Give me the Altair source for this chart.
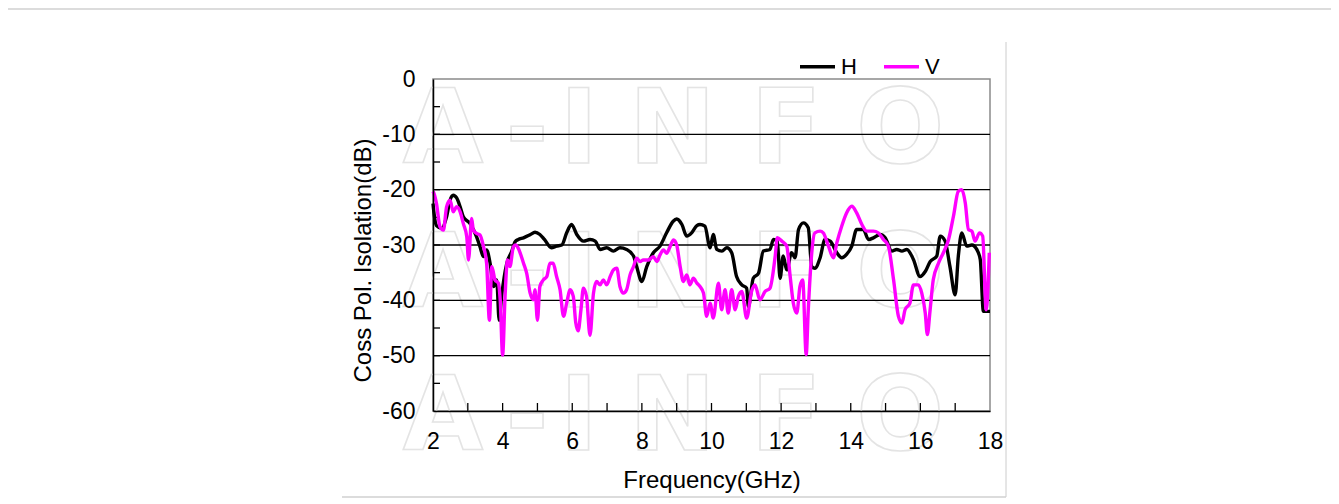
import altair as alt
import pandas as pd

# ---- data ----
H_points = [
    (2.0, -22.5), (2.03, -24.3), (2.1, -26.5), (2.25, -27.0), (2.39, -24.9), (2.49, -21.9),
    (2.58, -21.0), (2.68, -21.5), (2.78, -23.1), (2.87, -24.9), (3.06, -26.1), (3.25, -28.5),
    (3.35, -30.3), (3.45, -32.1), (3.54, -30.9), (3.64, -33.3), (3.74, -37.5), (3.83, -36.3),
    (3.9, -43.6), (3.97, -39.3), (4.12, -33.3), (4.26, -31.2), (4.36, -29.4), (4.45, -29.0),
    (4.6, -28.7), (4.8, -28.1), (4.93, -27.7), (5.07, -28.1), (5.2, -29.0), (5.4, -30.5),
    (5.55, -30.2), (5.7, -30.0), (5.84, -27.8), (5.98, -26.3), (6.13, -28.1), (6.32, -29.3),
    (6.51, -29.0), (6.66, -29.3), (6.8, -30.8), (6.99, -30.5), (7.18, -31.1), (7.37, -30.5),
    (7.56, -30.8), (7.76, -32.0), (7.85, -33.9), (8.0, -36.6), (8.14, -33.9), (8.33, -31.4),
    (8.52, -30.2), (8.71, -27.8), (8.9, -25.7), (9.0, -25.3), (9.15, -26.3), (9.29, -28.4),
    (9.43, -27.8), (9.58, -26.5), (9.67, -26.3), (9.81, -26.6), (9.96, -30.5), (10.05, -28.1),
    (10.15, -30.8), (10.3, -31.1), (10.44, -30.5), (10.58, -31.4), (10.72, -35.7), (10.87, -37.2),
    (11.01, -37.8), (11.06, -41.1), (11.2, -36.0), (11.35, -35.1), (11.49, -31.1), (11.68, -30.8),
    (11.78, -29.0), (11.89, -29.3), (11.97, -36.0), (12.06, -32.0), (12.16, -34.5), (12.3, -31.4),
    (12.4, -32.3), (12.5, -27.2), (12.64, -26.0), (12.78, -26.9), (12.88, -33.9), (12.97, -34.2),
    (13.12, -32.3), (13.26, -29.0), (13.41, -29.3), (13.6, -31.4), (13.74, -32.3), (13.88, -31.7),
    (14.03, -30.2), (14.17, -27.2), (14.36, -27.2), (14.51, -29.0), (14.65, -28.7), (14.84, -28.1),
    (14.99, -28.7), (15.18, -31.1), (15.32, -30.8), (15.47, -31.1), (15.61, -30.8), (15.8, -32.6),
    (15.99, -35.7), (16.14, -34.8), (16.28, -33.0), (16.47, -32.0), (16.57, -28.4), (16.71, -29.3),
    (16.85, -33.9), (17.0, -39.0), (17.09, -32.0), (17.19, -27.8), (17.33, -30.2), (17.48, -30.0),
    (17.62, -30.8), (17.72, -32.6), (17.81, -42.0), (17.95, -42.0), (18.0, -42.0),
]

V_points = [
    (2.0, -20.3), (2.03, -20.7), (2.1, -22.5), (2.2, -26.7), (2.3, -27.3), (2.39, -23.1),
    (2.49, -21.9), (2.58, -24.0), (2.68, -23.1), (2.78, -24.0), (2.87, -26.1), (2.97, -28.5),
    (3.02, -32.7), (3.11, -25.2), (3.16, -27.3), (3.25, -27.9), (3.35, -28.2), (3.45, -30.3),
    (3.54, -33.3), (3.62, -43.6), (3.69, -33.9), (3.78, -36.3), (3.88, -36.9), (3.93, -39.9),
    (4.0, -49.9), (4.07, -39.3), (4.14, -32.7), (4.21, -33.9), (4.31, -30.3), (4.38, -30.0),
    (4.45, -30.6), (4.6, -33.3), (4.69, -35.1), (4.79, -38.7), (4.88, -39.9), (4.93, -38.1),
    (5.0, -43.6), (5.07, -37.5), (5.17, -36.3), (5.27, -35.7), (5.36, -33.3), (5.45, -33.3),
    (5.55, -35.7), (5.65, -38.1), (5.75, -42.9), (5.84, -40.5), (5.94, -38.1), (6.03, -39.3),
    (6.1, -44.0), (6.17, -45.5), (6.25, -41.7), (6.32, -37.8), (6.41, -39.3), (6.51, -46.3),
    (6.61, -38.7), (6.7, -36.6), (6.8, -37.2), (6.89, -36.3), (6.99, -37.2), (7.09, -35.7),
    (7.18, -34.5), (7.28, -34.2), (7.37, -37.5), (7.47, -38.7), (7.56, -38.1), (7.66, -35.4),
    (7.76, -33.9), (7.85, -32.4), (7.95, -33.0), (8.04, -32.7), (8.19, -32.7), (8.33, -32.1),
    (8.43, -33.0), (8.52, -31.8), (8.62, -30.9), (8.71, -31.5), (8.81, -30.3), (8.91, -29.1),
    (9.0, -30.0), (9.1, -33.9), (9.19, -36.6), (9.29, -35.4), (9.38, -37.2), (9.48, -36.0),
    (9.58, -36.9), (9.67, -37.5), (9.77, -38.7), (9.86, -42.9), (9.96, -40.5), (10.05, -43.2),
    (10.2, -36.9), (10.29, -41.7), (10.39, -38.1), (10.48, -42.3), (10.58, -38.1), (10.68, -41.7),
    (10.77, -39.3), (10.87, -38.4), (11.01, -43.2), (11.15, -38.4), (11.25, -37.2), (11.39, -39.9),
    (11.54, -38.4), (11.68, -37.8), (11.83, -32.0), (11.89, -28.7), (12.02, -29.3), (12.16, -30.2),
    (12.26, -35.7), (12.35, -40.5), (12.45, -42.3), (12.54, -37.5), (12.62, -36.3), (12.72, -49.8),
    (12.78, -41.7), (12.88, -31.4), (12.97, -27.8), (13.12, -27.5), (13.21, -27.8), (13.36, -30.2),
    (13.5, -32.3), (13.6, -29.6), (13.74, -26.6), (13.88, -24.2), (14.03, -23.0), (14.17, -24.2),
    (14.32, -26.3), (14.46, -27.5), (14.65, -27.5), (14.79, -27.8), (14.94, -29.0), (15.08, -30.2),
    (15.23, -36.3), (15.37, -42.9), (15.47, -44.1), (15.56, -41.7), (15.7, -40.5), (15.8, -37.2),
    (15.94, -37.2), (16.04, -38.7), (16.14, -42.3), (16.2, -46.2), (16.28, -41.7), (16.37, -36.3),
    (16.52, -33.3), (16.66, -31.4), (16.81, -29.0), (16.95, -24.8), (17.09, -20.3), (17.19, -20.0),
    (17.29, -22.4), (17.38, -27.2), (17.48, -27.5), (17.57, -29.3), (17.7, -27.8), (17.79, -28.4),
    (17.89, -41.7), (17.98, -31.4),
]

series_names = ["H", "V"]
series_colors = ["#000000", "#FF00FF"]

x_tick_values = [2, 4, 6, 8, 10, 12, 14, 16, 18]
y_tick_values = [0, -10, -20, -30, -40, -50, -60]
grid_values = [-10, -20, -30, -40, -50]
x_minor_ticks = [3, 4, 5, 6, 7, 8, 9, 10, 11, 12, 13, 14, 15, 16, 17]
y_minor_ticks = [-5, -10, -15, -20, -25, -30, -35, -40, -45, -50, -55]

watermark_letters = ["A", "-", "I", "N", "F", "O"]
watermark_freq = [2.29, 4.70, 6.19, 8.87, 12.14, 15.42]
watermark_rows = [-15.2, -41.2, -67.1]

# ---- tables ----
rows = []
for name, pts in zip(series_names, [H_points, V_points]):
    for i, (f, d) in enumerate(pts):
        rows.append({"freq": f, "db": d, "series": name, "order": i})
lines_df = pd.DataFrame(rows)

wm_df = pd.DataFrame(
    [{"freq": f, "db": r, "letter": l} for r in watermark_rows for f, l in zip(watermark_freq, watermark_letters)]
)
grid_df = pd.DataFrame({"db": grid_values})
xt_df = pd.DataFrame({"freq": x_minor_ticks})
yt_df = pd.DataFrame({"db": y_minor_ticks})
one = pd.DataFrame({"k": [0]})

FONT = "Liberation Sans"

x_scale = alt.Scale(domain=[2, 18], nice=False, zero=False)
y_scale = alt.Scale(domain=[-60, 0], nice=False, zero=False)

x_axis = alt.Axis(
    values=x_tick_values, title="Frequency(GHz)", ticks=False, grid=False,
    labelFontSize=23, labelFont=FONT, labelColor="#000000", labelPadding=19,
    domainColor="#000000", domainWidth=1.5, titleFont=FONT, titleFontSize=24,
    titleFontWeight="normal", titleColor="#000000", titlePadding=15, zindex=1,
    labelFlush=False, labelExpr="'' + datum.value",
)
y_axis = alt.Axis(
    values=y_tick_values, title="Coss Pol. Isolation(dB)", ticks=False, grid=False,
    labelFontSize=23, labelFont=FONT, labelColor="#000000", labelPadding=18,
    domainColor="#000000", domainWidth=1.5, titleFont=FONT, titleFontSize=24,
    titleFontWeight="normal", titleColor="#000000", zindex=1,
    titleX=-70, titleY=181, titleAlign="center", titleBaseline="middle",
    labelFlush=False, labelExpr="'' + datum.value",
)

X = alt.X("freq:Q", scale=x_scale, axis=x_axis, title="Frequency(GHz)")
Y = alt.Y("db:Q", scale=y_scale, axis=y_axis, title="Coss Pol. Isolation(dB)")

watermark = alt.Chart(wm_df).mark_text(
    font="DejaVu Sans", fontSize=104, fontWeight="bold", fillOpacity=0,
    stroke="#e4e4e4", strokeWidth=1.6, align="center", baseline="alphabetic", clip=False,
).encode(x=X, y=Y, text="letter:N")

grid = alt.Chart(grid_df).mark_rule(color="#000000", strokeWidth=1.3).encode(y=Y)

xticks = alt.Chart(xt_df).mark_rule(color="#000000", strokeWidth=1.3).encode(
    x=X, y=alt.value(332), y2=alt.value(324)
)
yticks = alt.Chart(yt_df).mark_rule(color="#000000", strokeWidth=1.3).encode(
    y=Y, x=alt.value(0), x2=alt.value(7)
)

lines = alt.Chart(lines_df).mark_line(strokeWidth=3.4, interpolate="monotone").encode(
    x=X,
    y=Y,
    color=alt.Color(
        "series:N",
        scale=alt.Scale(domain=series_names, range=series_colors),
        legend=alt.Legend(
            title=None, orient="none", legendX=365, legendY=-32, direction="horizontal",
            symbolType="stroke", symbolSize=1225, symbolStrokeWidth=3.5,
            labelFontSize=22, labelFont=FONT, labelColor="#000000", labelOffset=4,
            columnPadding=20, padding=0,
        ),
    ),
    order="order:Q",
)

frame_top = alt.Chart(one).mark_rule(color="#dcdcdc", strokeWidth=2).encode(
    x=alt.value(-425), x2=alt.value(898), y=alt.value(-70)
)
frame_right = alt.Chart(one).mark_rule(color="#cccccc", strokeWidth=1).encode(
    x=alt.value(573), y=alt.value(-37), y2=alt.value(418)
)
frame_bottom = alt.Chart(one).mark_rule(color="#d0d0d0", strokeWidth=1.5).encode(
    x=alt.value(-91), x2=alt.value(573), y=alt.value(418)
)

chart = alt.layer(
    watermark, grid, xticks, yticks, lines, frame_top, frame_right, frame_bottom
).properties(
    width=557, height=332,
    padding={"left": 425, "top": 71, "right": 341, "bottom": 88},
    autosize=alt.AutoSizeParams(type="none"),
    background="#ffffff",
).configure_view(
    stroke="#8a8a8a", strokeWidth=1.5
)

chart.save("out.html", embed_options={"renderer": "svg", "actions": False})
